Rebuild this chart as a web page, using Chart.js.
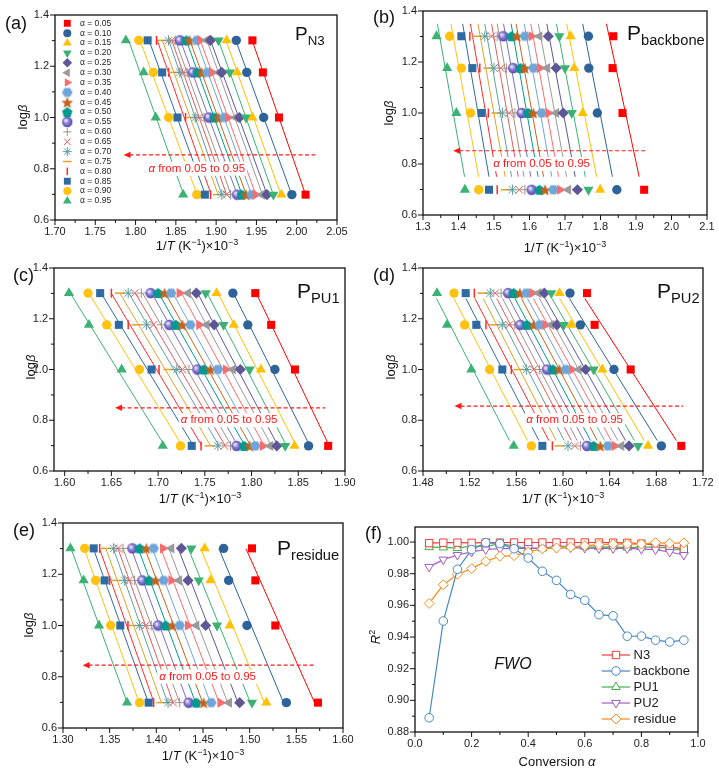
<!DOCTYPE html>
<html>
<head>
<meta charset="utf-8">
<script src="https://cdn.jsdelivr.net/npm/chart.js@4.4.1/dist/chart.umd.min.js"></script>
<style>
  body { margin: 0; background: #fff; width: 719px; height: 772px; position: relative; overflow: hidden;
         font-family: "Liberation Sans", Arial, sans-serif; color: #111; }
  canvas { position: absolute; }
  .t { position: absolute; white-space: nowrap; line-height: 1; }
  .c { transform: translate(-50%, -50%); }
  .r { transform: translate(-50%, -50%) rotate(-90deg); }
  .lab { font-size: 18px; }
  .ax { font-size: 13px; }
  .P sub { font-size: 0.7em; vertical-align: baseline; position: relative; top: 5px; }
</style>
</head>
<body>
<canvas id="ca"></canvas>
<canvas id="cb"></canvas>
<canvas id="cc"></canvas>
<canvas id="cd"></canvas>
<canvas id="ce"></canvas>
<canvas id="cf"></canvas>

<div class="t lab" style="left:5px;top:14px">(a)</div>
<div class="t lab" style="left:373px;top:8px">(b)</div>
<div class="t lab" style="left:13px;top:266px">(c)</div>
<div class="t lab" style="left:373px;top:266px">(d)</div>
<div class="t lab" style="left:13px;top:521px">(e)</div>
<div class="t lab" style="left:365px;top:524px">(f)</div>

<div class="t P" style="left:295px;top:24px;font-size:19px">P<sub>N3</sub></div>
<div class="t P" style="left:627px;top:22px;font-size:21px">P<sub>backbone</sub></div>
<div class="t P" style="left:297px;top:280px;font-size:21px">P<sub>PU1</sub></div>
<div class="t P" style="left:657px;top:280px;font-size:21px">P<sub>PU2</sub></div>
<div class="t P" style="left:277px;top:537px;font-size:21px">P<sub>residue</sub></div>

<div class="t ax r" style="left:22px;top:117px">log<i>β</i></div>
<div class="t ax r" style="left:388px;top:113px">log<i>β</i></div>
<div class="t ax r" style="left:30px;top:367px">log<i>β</i></div>
<div class="t ax r" style="left:390px;top:367px">log<i>β</i></div>
<div class="t ax r" style="left:28px;top:625px">log<i>β</i></div>
<div class="t ax r" style="left:375px;top:637px"><i>R</i><sup style="font-size:9px">2</sup></div>

<div class="t ax c" style="left:197px;top:245px">1/<i>T</i> (K<sup style="font-size:9px">−1</sup>)×10<sup style="font-size:9px">−3</sup></div>
<div class="t ax c" style="left:565px;top:247px">1/<i>T</i> (K<sup style="font-size:9px">−1</sup>)×10<sup style="font-size:9px">−3</sup></div>
<div class="t ax c" style="left:200px;top:498px">1/<i>T</i> (K<sup style="font-size:9px">−1</sup>)×10<sup style="font-size:9px">−3</sup></div>
<div class="t ax c" style="left:563px;top:498px">1/<i>T</i> (K<sup style="font-size:9px">−1</sup>)×10<sup style="font-size:9px">−3</sup></div>
<div class="t ax c" style="left:203px;top:755px">1/<i>T</i> (K<sup style="font-size:9px">−1</sup>)×10<sup style="font-size:9px">−3</sup></div>
<div class="t ax c" style="left:557px;top:761px">Conversion <i>α</i></div>
<div class="t c" style="left:513px;top:664px;font-size:16px"><i>FWO</i></div>

<script>
// ---- data ----
const ALPHA_LABELS = ['0.05','0.10','0.15','0.20','0.25','0.30','0.35','0.40','0.45','0.50',
                      '0.55','0.60','0.65','0.70','0.75','0.80','0.85','0.90','0.95'];
const ALPHA = [0.05,0.10,0.15,0.20,0.25,0.30,0.35,0.40,0.45,0.50,0.55,0.60,0.65,0.70,0.75,0.80,0.85,0.90,0.95];
// heating rates 5, 10, 15, 20 K/min
const LOG_BETA = [0.699, 1.000, 1.176, 1.301];

// 1/T (x10^-3) per alpha, one array per heating rate
const N3_B5  = [2.011,1.994,1.981,1.971,1.963,1.957,1.949,1.944,1.937,1.932,1.926,1.918,1.913,1.907,1.902,1.893,1.886,1.876,1.859];
const N3_B10 = [1.978,1.959,1.945,1.937,1.929,1.924,1.915,1.910,1.903,1.898,1.891,1.885,1.879,1.874,1.869,1.862,1.852,1.841,1.825];
const N3_B15 = [1.958,1.938,1.926,1.917,1.907,1.903,1.895,1.889,1.882,1.877,1.871,1.864,1.859,1.855,1.847,1.841,1.833,1.822,1.810];
const N3_B20 = [1.945,1.925,1.913,1.903,1.893,1.888,1.880,1.876,1.867,1.863,1.855,1.849,1.845,1.841,1.833,1.826,1.815,1.804,1.788];

const BB_B5  = [1.923,1.846,1.799,1.766,1.735,1.709,1.686,1.667,1.644,1.628,1.606,1.587,1.571,1.552,1.533,1.509,1.486,1.457,1.418];
const BB_B10 = [1.862,1.791,1.750,1.719,1.695,1.675,1.653,1.634,1.611,1.596,1.578,1.559,1.543,1.524,1.507,1.484,1.465,1.434,1.394];
const BB_B15 = [1.834,1.767,1.726,1.700,1.675,1.650,1.629,1.611,1.587,1.575,1.554,1.535,1.519,1.500,1.484,1.460,1.439,1.408,1.368];
const BB_B20 = [1.836,1.766,1.716,1.684,1.653,1.628,1.606,1.587,1.565,1.549,1.526,1.509,1.493,1.474,1.452,1.432,1.408,1.375,1.338];

const PU1_B5  = [1.882,1.861,1.846,1.836,1.827,1.820,1.812,1.804,1.798,1.792,1.784,1.7775,1.771,1.764,1.755,1.746,1.736,1.724,1.705];
const PU1_B10 = [1.8464,1.825,1.810,1.798,1.788,1.780,1.7725,1.764,1.756,1.749,1.742,1.733,1.726,1.720,1.711,1.701,1.693,1.680,1.661];
const PU1_B15 = [1.821,1.796,1.781,1.770,1.760,1.752,1.744,1.7346,1.726,1.719,1.712,1.7036,1.695,1.6875,1.677,1.668,1.658,1.645,1.626];
const PU1_B20 = [1.804,1.780,1.7625,1.751,1.741,1.732,1.723,1.714,1.707,1.700,1.692,1.682,1.675,1.668,1.659,1.650,1.638,1.625,1.6046];

const PU2_B5  = [1.7014,1.6843,1.6729,1.6643,1.6566,1.650,1.6443,1.6386,1.632,1.6263,1.6206,1.6149,1.610,1.6043,1.5971,1.5909,1.5823,1.5729,1.5577];
const PU2_B10 = [1.658,1.6437,1.6337,1.6263,1.6194,1.6134,1.6077,1.6023,1.597,1.5914,1.5863,1.580,1.5749,1.5686,1.5623,1.5557,1.548,1.5371,1.5214];
const PU2_B15 = [1.6271,1.6149,1.607,1.6006,1.5949,1.590,1.585,1.580,1.5749,1.569,1.5634,1.5586,1.5537,1.548,1.5414,1.534,1.5257,1.5157,1.5006];
const PU2_B20 = [1.6206,1.606,1.597,1.590,1.584,1.579,1.5737,1.5686,1.563,1.5577,1.553,1.547,1.542,1.5377,1.531,1.524,1.5166,1.5066,1.492];

const RES_B5  = [1.5732,1.5393,1.5179,1.5025,1.4893,1.4779,1.4686,1.4589,1.4507,1.4429,1.4346,1.425,1.4179,1.4125,1.4054,1.3971,1.3918,1.3821,1.3686];
const RES_B10 = [1.5275,1.4971,1.4786,1.465,1.4529,1.4429,1.4339,1.425,1.4171,1.41,1.4018,1.3946,1.3886,1.3821,1.3761,1.3696,1.3614,1.3511,1.3386];
const RES_B15 = [1.5061,1.4775,1.4579,1.4454,1.4339,1.4243,1.4161,1.4079,1.3993,1.3921,1.385,1.3768,1.3707,1.3661,1.3571,1.350,1.3446,1.335,1.3221];
const RES_B20 = [1.5025,1.4721,1.4518,1.4375,1.4268,1.4161,1.4071,1.3971,1.3893,1.3821,1.3743,1.3643,1.359,1.3543,1.3464,1.3393,1.3329,1.3232,1.3079];

// R^2 of FWO fits vs conversion
const R2_LABELS = ['N3','backbone','PU1','PU2','residue'];
const R2_N3       = [0.9993,0.9996,0.9996,0.9995,0.9996,0.9996,0.9997,0.9997,0.9997,0.9997,0.9997,0.9997,0.9997,0.9996,0.9995,0.9990,0.9982,0.9972,0.9955];
const R2_BACKBONE = [0.8890,0.9501,0.9828,0.9952,0.9996,0.9990,0.9958,0.9899,0.9815,0.9758,0.9669,0.9632,0.9541,0.9534,0.9405,0.9406,0.9380,0.9369,0.9380];
const R2_PU1      = [0.9968,0.9966,0.9962,0.9975,0.9972,0.9990,0.9975,0.9960,0.9960,0.9975,0.9972,0.9970,0.9968,0.9970,0.9965,0.9968,0.9968,0.9962,0.9945];
const R2_PU2      = [0.9843,0.9889,0.9918,0.9938,0.9953,0.9958,0.9960,0.9962,0.9960,0.9962,0.9965,0.9962,0.9960,0.9960,0.9960,0.9955,0.9952,0.9937,0.9918];
const R2_RESIDUE  = [0.9612,0.9730,0.9797,0.9832,0.9878,0.9910,0.9914,0.9937,0.9957,0.9963,0.9968,0.9977,0.9984,0.9987,0.9988,0.9987,0.9996,0.9992,0.9995];

// tick labels
const TICKS_N3  = [1.70,1.75,1.80,1.85,1.90,1.95,2.00,2.05];
const TICKS_BB  = [1.3,1.4,1.5,1.6,1.7,1.8,1.9,2.0,2.1];
const TICKS_PU1 = [1.60,1.65,1.70,1.75,1.80,1.85,1.90];
const TICKS_PU2 = [1.48,1.52,1.56,1.60,1.64,1.68,1.72];
const TICKS_RES = [1.30,1.35,1.40,1.45,1.50,1.55,1.60];
const TICKS_LOGB = [0.6,0.8,1.0,1.2,1.4];
const TICKS_CONV = [0.0,0.2,0.4,0.6,0.8,1.0];
const TICKS_R2   = [0.88,0.90,0.92,0.94,0.96,0.98,1.00];

// ---- marker styles ----
function markerCanvas(size, paint) {
  const c = document.createElement('canvas');
  c.width = c.height = size;
  paint(c.getContext('2d'), size / 2);
  return c;
}
function polygon(g, cx, cy, r, n, rot) {
  g.beginPath();
  for (let k = 0; k < n; k++) {
    const a = rot + k * 2 * Math.PI / n;
    g.lineTo(cx + r * Math.cos(a), cy + r * Math.sin(a));
  }
  g.closePath();
}
const HEX = markerCanvas(12, (g, c) => { g.fillStyle = '#6FA5D8'; polygon(g, c, c, 5.3, 6, 0); g.fill(); });
const PENTA = markerCanvas(12, (g, c) => { g.fillStyle = '#00998F'; polygon(g, c, c + 0.5, 5.5, 5, -Math.PI / 2); g.fill(); });
const STAR5 = markerCanvas(14, (g, c) => {
  g.fillStyle = '#C4641C'; g.beginPath();
  for (let k = 0; k < 10; k++) {
    const r = k % 2 ? 2.7 : 6.3, a = -Math.PI / 2 + k * Math.PI / 5;
    g.lineTo(c + r * Math.cos(a), c + 0.7 + r * Math.sin(a));
  }
  g.closePath(); g.fill();
});
const SPHERE = markerCanvas(12, (g, c) => {
  const gr = g.createRadialGradient(c - 1.8, c - 1.8, 0.4, c, c, 5.4);
  gr.addColorStop(0, '#F4F2FF'); gr.addColorStop(0.45, '#8C80D8'); gr.addColorStop(1, '#4E43A6');
  g.fillStyle = gr; g.beginPath(); g.arc(c, c, 5.2, 0, 2 * Math.PI); g.fill();
});

const STYLES = [
  { c: '#FF0000', ps: 'rect', r: 5.7 },
  { c: '#2E6399', ps: 'circle', r: 4.7 },
  { c: '#FFC000', ps: 'triangle', r: 5.9 },
  { c: '#3BB273', ps: 'triangle', rot: 180, r: 5.9 },
  { c: '#5E5796', ps: 'rectRot', r: 5.6 },
  { c: '#9A9A9A', ps: 'triangle', rot: -90, r: 5.9 },
  { c: '#FF6B6B', ps: 'triangle', rot: 90, r: 5.9 },
  { c: '#6FA5D8', ps: HEX },
  { c: '#C4641C', ps: STAR5 },
  { c: '#00998F', ps: PENTA },
  { c: '#7A6CC4', ps: SPHERE },
  { c: '#A48F86', ps: 'cross', r: 4.8, bw: 1 },
  { c: '#E35B5B', ps: 'crossRot', r: 5.4, bw: 1 },
  { c: '#5F9EA0', ps: 'star', r: 5.2, bw: 1 },
  { c: '#E0A22A', ps: 'line', r: 5, bw: 1.5 },
  { c: '#FF2A2A', ps: 'line', rot: 90, r: 4.5, bw: 1.5 },
  { c: '#2F6AA3', ps: 'rect', r: 5.7 },
  { c: '#FFC20E', ps: 'circle', r: 4.7 },
  { c: '#3BB273', ps: 'triangle', r: 5.9 }
];
const R2_STYLES = [
  { c: '#EE3B3B', ps: 'rect', r: 5.2, order: 3 },
  { c: '#4686C6', ps: 'circle', r: 4.3, order: 0 },
  { c: '#47B04B', ps: 'triangle', r: 5, order: 4 },
  { c: '#A05EC0', ps: 'triangle', rot: 180, r: 5, order: 2 },
  { c: '#FA8C1C', ps: 'rectRot', r: 5, order: 1 }
];

const FONT = { family: '"Liberation Sans", Arial, sans-serif', size: 11 };
const RED = '#FF1A1A';

function place(cv, [L, T, R, B]) {
  cv.width = R - L + 65;
  cv.height = B - T + 36;
  cv.style.left = (L - 45) + 'px';
  cv.style.top = (T - 10) + 'px';
}

function minorsOf(t, min, max) {
  const m = [];
  for (let i = 0; i < t.length - 1; i++) m.push((t[i] + t[i + 1]) / 2);
  const st = t[1] - t[0];
  if (t[0] - st / 2 >= min - 1e-9) m.push(t[0] - st / 2);
  if (t[t.length - 1] + st / 2 <= max + 1e-9) m.push(t[t.length - 1] + st / 2);
  return m;
}

function fitLine(xs, ys) {
  const n = xs.length;
  const mx = xs.reduce((a, b) => a + b, 0) / n, my = ys.reduce((a, b) => a + b, 0) / n;
  let sxy = 0, syy = 0;
  for (let i = 0; i < n; i++) { sxy += (ys[i] - my) * (xs[i] - mx); syy += (ys[i] - my) ** 2; }
  const b = sxy / syy;
  return y => mx + b * (y - my);
}

function axis(min, max, ticks, dec, horizontal) {
  return {
    type: 'linear', min, max,
    afterFit: s => { if (horizontal) s.height = 26; else s.width = 45; },
    afterBuildTicks: s => { s.ticks = ticks.map(v => ({ value: v })); },
    ticks: { callback: v => Number(v).toFixed(dec), font: FONT, color: '#222', padding: horizontal ? 1 : 2,
             autoSkip: false, maxRotation: 0 },
    grid: { display: true, drawOnChartArea: false, color: 'rgba(0,0,0,0)', tickLength: 4 },
    border: { display: false }
  };
}

function drawFrame(chart, xTicks, yTicks) {
  const { ctx, chartArea: a, scales: { x, y } } = chart;
  ctx.save();
  ctx.strokeStyle = '#111';
  ctx.lineWidth = 1.3;
  ctx.strokeRect(a.left, a.top, a.right - a.left, a.bottom - a.top);
  ctx.lineWidth = 1;
  ctx.beginPath();
  xTicks.forEach(v => { const px = x.getPixelForValue(v); ctx.moveTo(px, a.bottom); ctx.lineTo(px, a.bottom + 5); });
  minorsOf(xTicks, x.min, x.max).forEach(v => { const px = x.getPixelForValue(v); ctx.moveTo(px, a.bottom); ctx.lineTo(px, a.bottom + 3); });
  yTicks.forEach(v => { const py = y.getPixelForValue(v); ctx.moveTo(a.left, py); ctx.lineTo(a.left - 5, py); });
  minorsOf(yTicks, y.min, y.max).forEach(v => { const py = y.getPixelForValue(v); ctx.moveTo(a.left, py); ctx.lineTo(a.left - 3, py); });
  ctx.stroke();
  ctx.restore();
}

function drawArrow(chart, ann) {
  const { ctx, scales: { x, y } } = chart;
  const x1 = x.getPixelForValue(ann.from), x2 = x.getPixelForValue(ann.to), py = y.getPixelForValue(ann.y);
  ctx.save();
  // label with white backing
  const tx = x.getPixelForValue(ann.tx), ty = y.getPixelForValue(ann.ty);
  const fi = 'italic 11.5px "Liberation Sans", Arial, sans-serif', fn = '11.5px "Liberation Sans", Arial, sans-serif';
  ctx.font = fi; const w1 = ctx.measureText('α').width;
  ctx.font = fn; const w2 = ctx.measureText(' from 0.05 to 0.95').width;
  const sx = tx - (w1 + w2) / 2;
  ctx.fillStyle = '#fff';
  ctx.fillRect(sx - 2, ty - 7, w1 + w2 + 4, 14);
  ctx.fillStyle = RED; ctx.textBaseline = 'middle'; ctx.textAlign = 'left';
  ctx.font = fi; ctx.fillText('α', sx, ty);
  ctx.font = fn; ctx.fillText(' from 0.05 to 0.95', sx + w1, ty);
  // dashed arrow
  ctx.strokeStyle = RED; ctx.lineWidth = 1.2; ctx.setLineDash([4, 2.5]);
  ctx.beginPath(); ctx.moveTo(x1 + 6, py); ctx.lineTo(x2, py); ctx.stroke();
  ctx.setLineDash([]);
  ctx.beginPath(); ctx.moveTo(x1, py); ctx.lineTo(x1 + 7, py - 3.2); ctx.lineTo(x1 + 7, py + 3.2); ctx.closePath(); ctx.fill();
  ctx.restore();
}

function drawMarker(ctx, s, px, py, fill, scale) {
  ctx.fillStyle = fill || s.c;
  ctx.strokeStyle = s.c;
  ctx.lineWidth = s.bw || 1;
  Chart.helpers.drawPoint(ctx, { pointStyle: s.ps, rotation: s.rot || 0, radius: (s.r || 4) * (scale || 1),
                                 borderWidth: s.bw || 0 }, px, py);
}

function alphaLegend(chart) {
  const { ctx, chartArea: a } = chart;
  ctx.save();
  ctx.font = '8.5px "Liberation Sans", Arial, sans-serif';
  ctx.textBaseline = 'middle';
  STYLES.forEach((s, i) => {
    const py = a.top + 8.3 + i * 9.87;
    drawMarker(ctx, s, a.left + 12.3, py, null, 0.85);
    ctx.fillStyle = '#222';
    ctx.fillText('α = ' + ALPHA_LABELS[i], a.left + 25, py);
  });
  ctx.restore();
}

function kineticPanel(p) {
  const cv = document.getElementById(p.id);
  place(cv, p.rect);
  const markers = STYLES.map((s, i) => ({
    label: 'α = ' + ALPHA_LABELS[i],
    data: p.rows.map((row, j) => ({ x: row[i], y: LOG_BETA[j] })),
    showLine: false, order: 1,
    pointStyle: s.ps, pointRotation: s.rot || 0, pointRadius: s.r || 4,
    pointBackgroundColor: s.c, pointBorderColor: s.c, pointBorderWidth: s.bw || 0
  }));
  const lines = STYLES.map((s, i) => {
    const f = fitLine(p.rows.map(r => r[i]), LOG_BETA);
    return {
      data: p.lineY.map(yv => ({ x: f(yv), y: yv })),
      showLine: true, pointRadius: 0, borderColor: s.c, borderWidth: 1, order: 2
    };
  });
  new Chart(cv, {
    type: 'scatter',
    data: { datasets: [...markers, ...lines] },
    options: {
      responsive: false, animation: false, events: [],
      layout: { padding: { left: 0, top: 10, right: 20, bottom: 0 } },
      plugins: { legend: { display: false }, tooltip: { enabled: false } },
      scales: { x: axis(p.xMin, p.xMax, p.xTicks, p.dec, true), y: axis(0.6, 1.4, TICKS_LOGB, 1, false) }
    },
    plugins: [{
      id: 'deco',
      afterDatasetsDraw(chart) {
        drawArrow(chart, p.arrow);
        if (p.legend) alphaLegend(chart);
        drawFrame(chart, p.xTicks, TICKS_LOGB);
      }
    }]
  });
}

kineticPanel({ id: 'ca', rect: [55, 15, 337, 220], xMin: 1.70, xMax: 2.05, xTicks: TICKS_N3, dec: 2,
  rows: [N3_B5, N3_B10, N3_B15, N3_B20], lineY: [1.30, 0.70], legend: true,
  arrow: { from: 1.785, to: 2.025, y: 0.854, tx: 1.876, ty: 0.80 } });
kineticPanel({ id: 'cb', rect: [423, 11, 707, 215], xMin: 1.3, xMax: 2.1, xTicks: TICKS_BB, dec: 1,
  rows: [BB_B5, BB_B10, BB_B15, BB_B20], lineY: [1.35, 0.75],
  arrow: { from: 1.385, to: 1.926, y: 0.852, tx: 1.634, ty: 0.80 } });
kineticPanel({ id: 'cc', rect: [54, 268, 345, 471], xMin: 1.5886, xMax: 1.90, xTicks: TICKS_PU1, dec: 2,
  rows: [PU1_B5, PU1_B10, PU1_B15, PU1_B20], lineY: [1.30, 0.70],
  arrow: { from: 1.654, to: 1.879, y: 0.849, tx: 1.776, ty: 0.80 } });
kineticPanel({ id: 'cd', rect: [423, 268, 703, 471], xMin: 1.48, xMax: 1.72, xTicks: TICKS_PU2, dec: 2,
  rows: [PU2_B5, PU2_B10, PU2_B15, PU2_B20], lineY: [1.28, 0.72],
  arrow: { from: 1.507, to: 1.703, y: 0.856, tx: 1.61, ty: 0.80 } });
kineticPanel({ id: 'ce', rect: [63, 523, 343, 728], xMin: 1.30, xMax: 1.60, xTicks: TICKS_RES, dec: 2,
  rows: [RES_B5, RES_B10, RES_B15, RES_B20], lineY: [1.30, 0.70],
  arrow: { from: 1.321, to: 1.571, y: 0.845, tx: 1.455, ty: 0.80 } });

// ---- panel (f): R^2 ----
(function () {
  const cv = document.getElementById('cf');
  place(cv, [415, 527, 698, 732]);
  const series = [R2_N3, R2_BACKBONE, R2_PU1, R2_PU2, R2_RESIDUE];
  const datasets = series.map((vals, i) => {
    const s = R2_STYLES[i];
    return {
      label: R2_LABELS[i],
      data: vals.map((v, k) => ({ x: ALPHA[k], y: v })),
      showLine: true, borderColor: s.c, borderWidth: 1.2, order: s.order,
      pointStyle: s.ps, pointRotation: s.rot || 0, pointRadius: s.r,
      pointBackgroundColor: '#fff', pointBorderColor: s.c, pointBorderWidth: 1
    };
  });
  new Chart(cv, {
    type: 'scatter',
    data: { datasets },
    options: {
      responsive: false, animation: false, events: [],
      layout: { padding: { left: 0, top: 10, right: 20, bottom: 0 } },
      plugins: { legend: { display: false }, tooltip: { enabled: false } },
      scales: { x: axis(0, 1.0, TICKS_CONV, 1, true), y: axis(0.88, 1.0095, TICKS_R2, 2, false) }
    },
    plugins: [{
      id: 'deco',
      afterDatasetsDraw(chart) {
        const { ctx, chartArea: a } = chart;
        ctx.save();
        ctx.font = '13px "Liberation Sans", Arial, sans-serif';
        ctx.textBaseline = 'middle';
        R2_STYLES.forEach((s, i) => {
          const py = a.top + 128 + i * 16;
          ctx.strokeStyle = s.c; ctx.lineWidth = 1.2;
          ctx.beginPath(); ctx.moveTo(a.left + 186.7, py); ctx.lineTo(a.left + 215, py); ctx.stroke();
          drawMarker(ctx, Object.assign({}, s, { bw: 1 }), a.left + 201, py, '#fff');
          ctx.fillStyle = '#222';
          ctx.fillText(R2_LABELS[i], a.left + 218.5, py);
        });
        ctx.restore();
        drawFrame(chart, TICKS_CONV, TICKS_R2);
      }
    }]
  });
})();
</script>
</body>
</html>
